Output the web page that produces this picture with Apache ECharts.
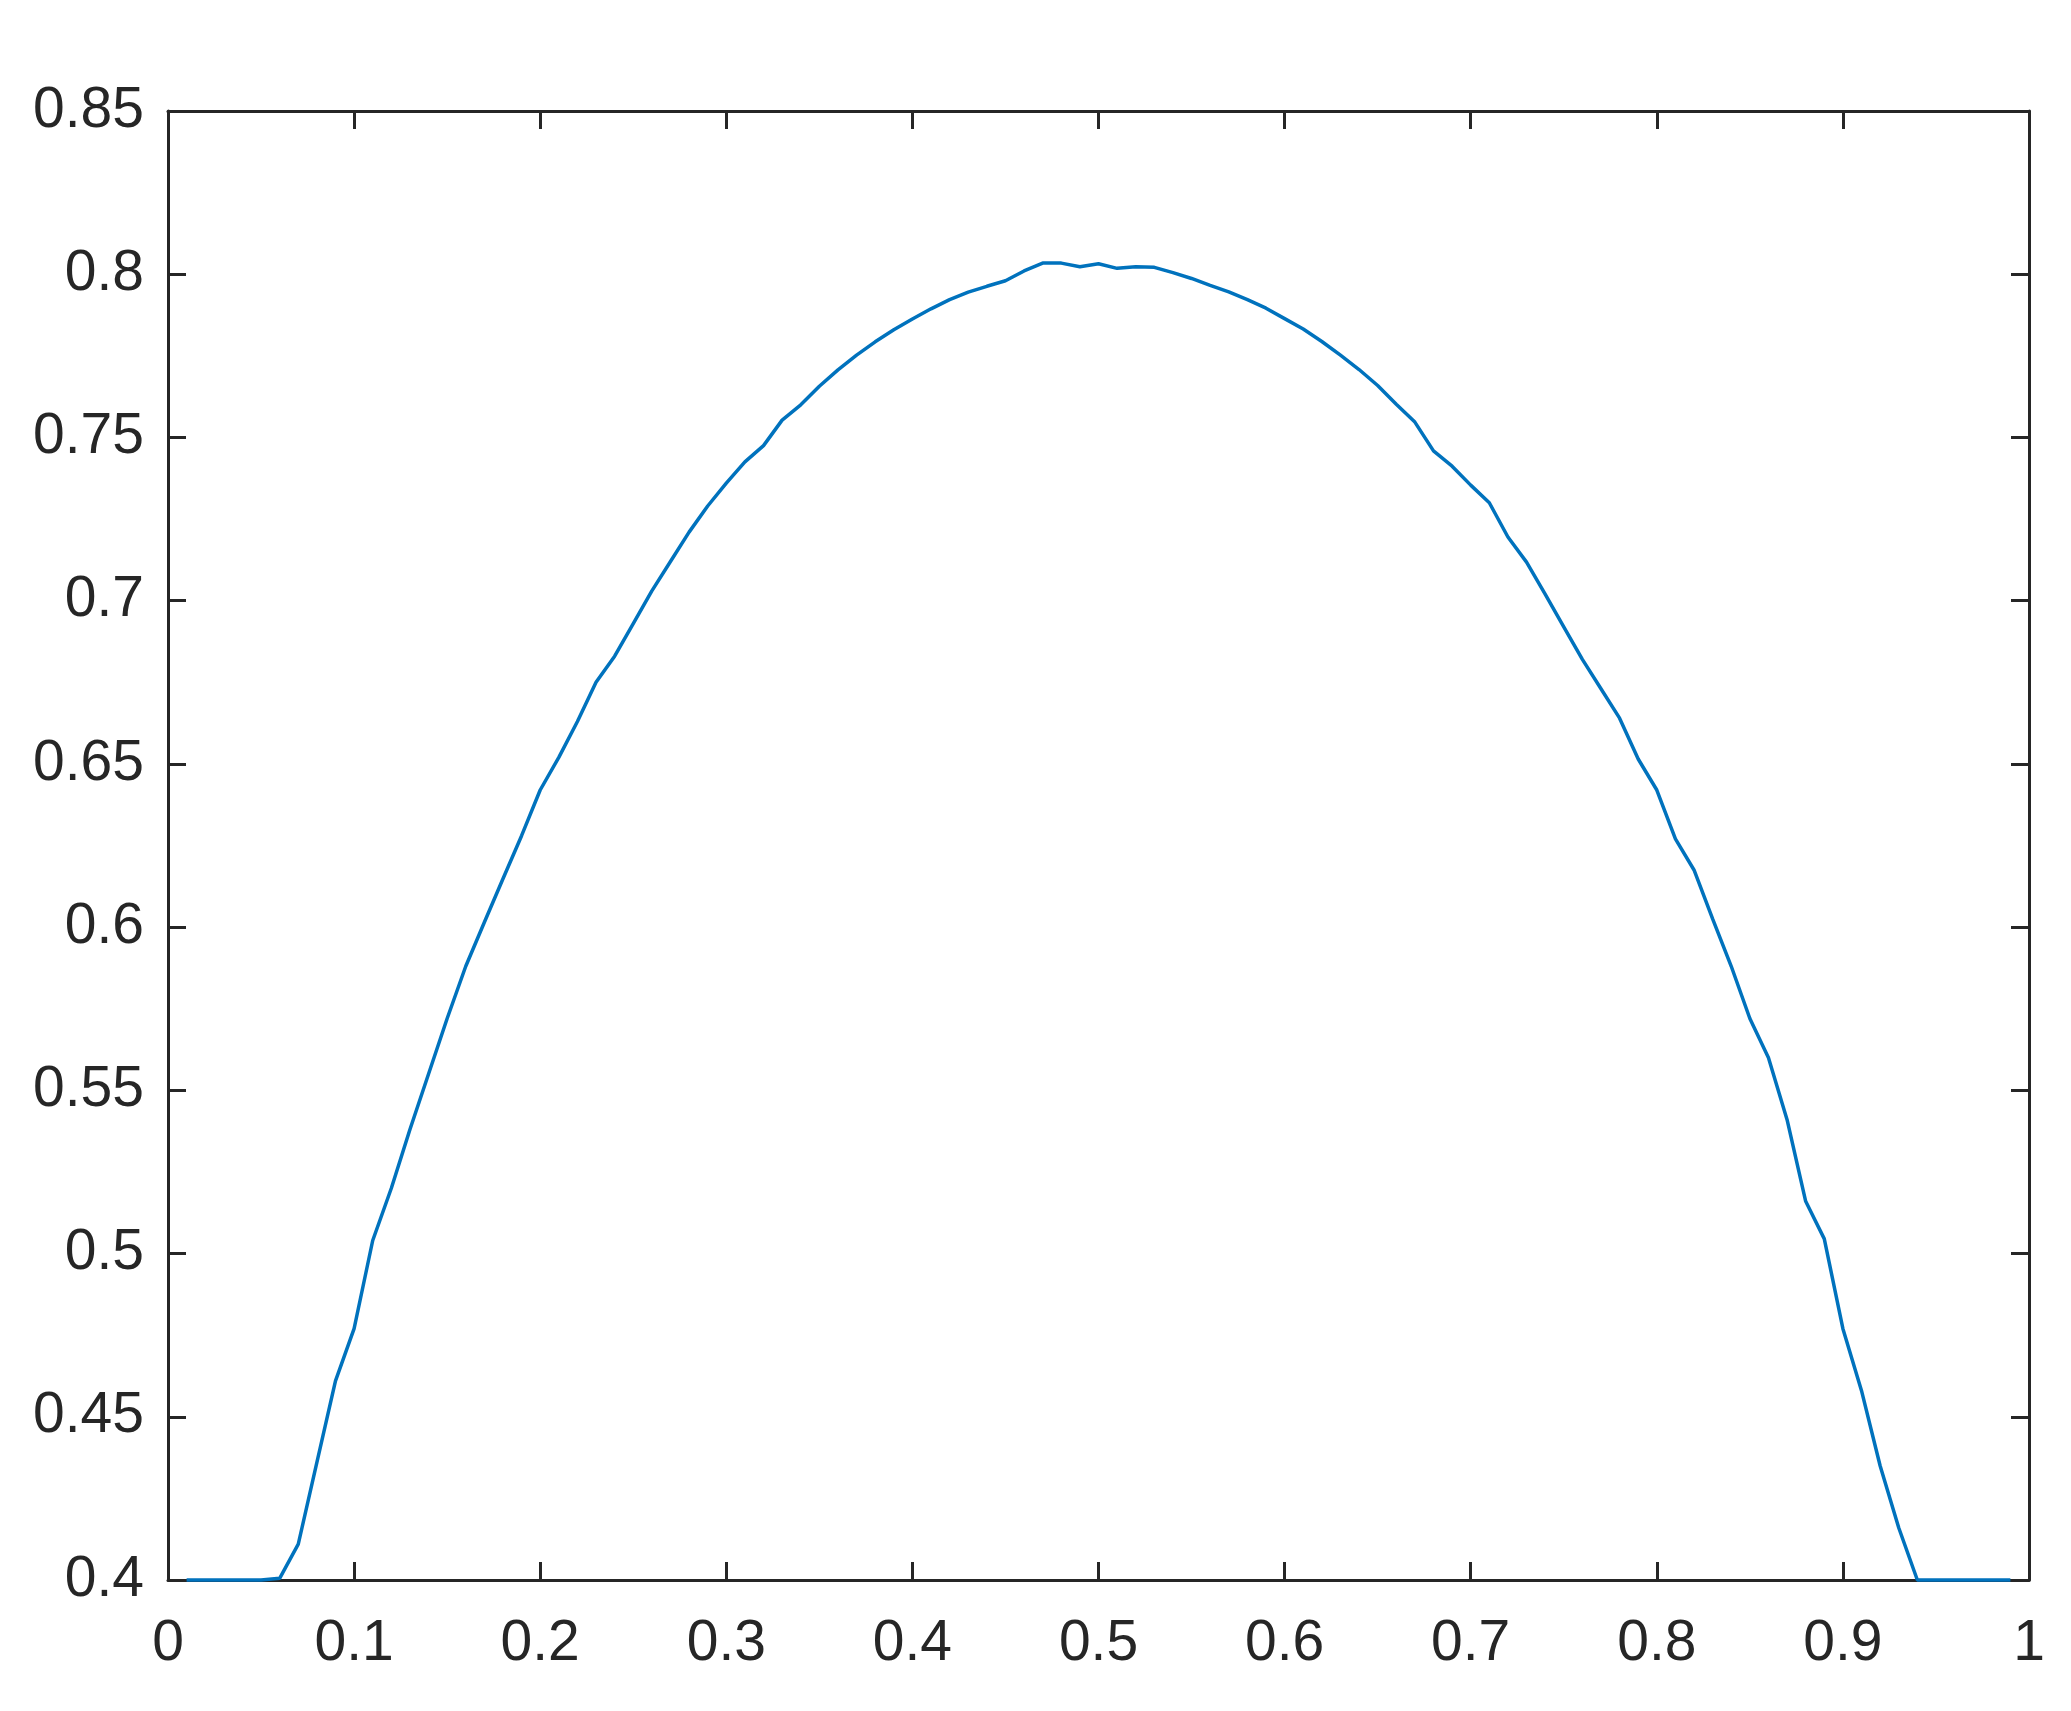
<!DOCTYPE html>
<html>
<head>
<meta charset="utf-8">
<script src="https://cdn.jsdelivr.net/npm/echarts@6/dist/echarts.min.js"></script>
<style>
  html, body { margin: 0; padding: 0; background: #fff; }
  #main { width: 2071px; height: 1711px; }
</style>
</head>
<body>
<div id="main"></div>
<script>
// x positions (0.01 .. 0.99) and values
var xs = [0.01,0.02,0.03,0.04,0.05,0.06,0.07,0.08,0.09,0.10,
          0.11,0.12,0.13,0.14,0.15,0.16,0.17,0.18,0.19,0.20,
          0.21,0.22,0.23,0.24,0.25,0.26,0.27,0.28,0.29,0.30,
          0.31,0.32,0.33,0.34,0.35,0.36,0.37,0.38,0.39,0.40,
          0.41,0.42,0.43,0.44,0.45,0.46,0.47,0.48,0.49,0.50,
          0.51,0.52,0.53,0.54,0.55,0.56,0.57,0.58,0.59,0.60,
          0.61,0.62,0.63,0.64,0.65,0.66,0.67,0.68,0.69,0.70,
          0.71,0.72,0.73,0.74,0.75,0.76,0.77,0.78,0.79,0.80,
          0.81,0.82,0.83,0.84,0.85,0.86,0.87,0.88,0.89,0.90,
          0.91,0.92,0.93,0.94,0.95,0.96,0.97,0.98,0.99];
var ys = [0.4,0.4,0.4,0.4,0.4,0.4005,0.411,0.436,0.461,0.477,
          0.504,0.520,0.538,0.555,0.572,0.588,0.6015,0.6148,0.628,0.642,
          0.652,0.663,0.675,0.683,0.693,0.703,0.712,0.721,0.729,0.736,
          0.7425,0.7475,0.7553,0.760,0.7657,0.7707,0.7752,0.7793,0.783,0.7863,
          0.7894,0.7922,0.7945,0.7963,0.798,0.801,0.8034,0.8034,0.8023,0.8032,
          0.8018,0.8023,0.8021,0.8005,0.7987,0.7966,0.7946,0.7922,0.7896,0.7864,
          0.7832,0.7794,0.7752,0.7708,0.7659,0.7602,0.7547,0.7459,0.7412,0.7354,
          0.730,0.7195,0.7118,0.702,0.692,0.682,0.673,0.664,0.6515,0.642,
          0.627,0.6175,0.6025,0.588,0.572,0.560,0.541,0.516,0.5045,0.477,
          0.458,0.435,0.416,0.4,0.4,0.4,0.4,0.4,0.4];

var xMin = 0, xMax = 1, xStep = 0.1;
var yMin = 0.4, yMax = 0.85, yStep = 0.05;

var axisColor = '#262626';
var font = { fontFamily: 'Liberation Sans, Arial, sans-serif', fontSize: 57, color: axisColor };

function boxAxis(type, pos, showLabel, min, max, step) {
  var label = Object.assign({ show: showLabel, margin: type == 'x' ? 36 : 24 }, font);
  if (type == 'y') label.padding = [10, 0, 0, 0];
  return {
    type: 'value',
    position: pos,
    min: min,
    max: max,
    interval: step,
    axisLine: { show: true, onZero: false, lineStyle: { color: axisColor, width: 3 } },
    axisTick: { show: true, inside: true, length: 18, lineStyle: { color: axisColor, width: 3 } },
    axisLabel: label,
    splitLine: { show: false }
  };
}

var myChart = echarts.init(document.getElementById('main'));
var option;

option = {
  backgroundColor: '#ffffff',
  animation: false,
  grid: { left: 168, right: 42, top: 111, bottom: 131, containLabel: false },
  xAxis: [
    boxAxis('x', 'bottom', true, xMin, xMax, xStep),
    boxAxis('x', 'top', false, xMin, xMax, xStep)
  ],
  yAxis: [
    boxAxis('y', 'left', true, yMin, yMax, yStep),
    boxAxis('y', 'right', false, yMin, yMax, yStep)
  ],
  series: [{
    type: 'line',
    xAxisIndex: 0,
    yAxisIndex: 0,
    data: xs.map(function (x, i) { return [x, ys[i]]; }),
    showSymbol: false,
    clip: false,
    lineStyle: { color: '#0072BD', width: 3.5 }
  }]
};

option && myChart.setOption(option);
</script>
</body>
</html>
